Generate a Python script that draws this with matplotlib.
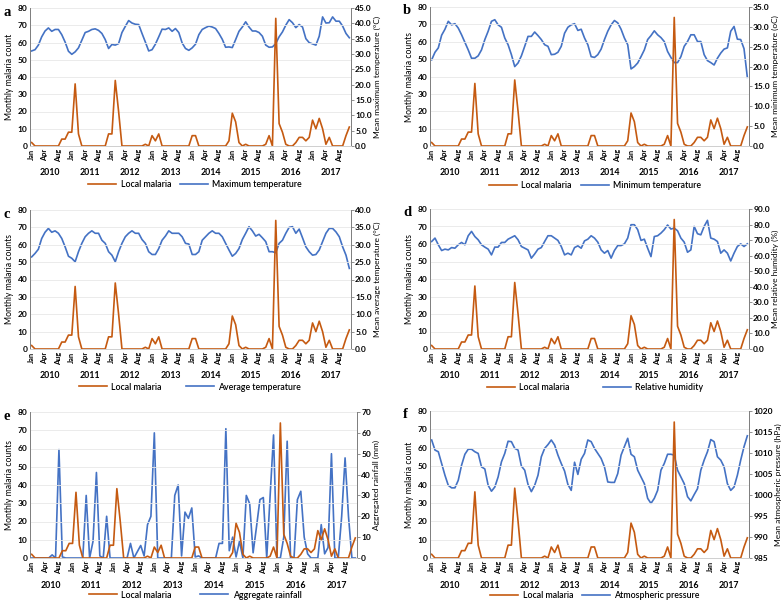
import matplotlib
matplotlib.use("Agg")
import matplotlib.pyplot as plt
from matplotlib.ticker import FormatStrFormatter, FixedLocator

plt.rcParams["font.family"] = ["Lato", "DejaVu Sans"]

years = [2010, 2011, 2012, 2013, 2014, 2015, 2016, 2017]
month_labels = ["Jan", "Apr", "Aug"]

# monthly local malaria cases, Jan 2010 - Dec 2017
malaria = [2, 0, 0, 0, 0, 0, 0, 0, 0, 4, 4, 8,
           8, 36, 7, 0, 0, 0, 0, 0, 0, 0, 0, 7,
           7, 38, 20, 0, 0, 0, 0, 0, 0, 0, 1, 0,
           6, 3, 7, 0, 0, 0, 0, 0, 0, 0, 0, 0,
           6, 6, 0, 0, 0, 0, 0, 0, 0, 0, 0, 3,
           19, 14, 2, 0, 1, 0, 0, 0, 0, 0, 1, 6,
           0, 74, 13, 8, 1, 0, 0, 2, 5, 5, 3, 5,
           15, 10, 16, 10, 1, 5, 0, 0, 0, 0, 6, 11]

max_temp = [31.0, 31.4, 32.9, 35.6, 37.5, 38.5, 37.4, 38.0, 38.0, 36.3, 33.9, 30.9,
            29.9, 30.7, 32.0, 34.5, 37.0, 37.4, 38.0, 38.2, 37.7, 36.7, 34.7, 31.8,
            33.1, 32.9, 33.4, 37.0, 39.0, 40.9, 40.1, 39.7, 39.6, 36.7, 33.9, 31.0,
            31.4, 33.2, 35.6, 38.1, 38.0, 38.5, 37.4, 38.3, 37.0, 33.6, 31.8, 31.2,
            32.0, 33.2, 36.3, 38.0, 38.6, 39.1, 38.8, 38.3, 36.7, 34.8, 32.2, 32.3,
            32.1, 34.7, 37.4, 38.8, 40.5, 38.8, 37.5, 37.5, 37.0, 35.8, 32.9, 32.2,
            32.3, 33.4, 35.6, 37.2, 39.4, 41.2, 40.2, 38.6, 39.6, 38.8, 35.0, 33.7,
            33.3, 32.9, 35.8, 42.1, 40.1, 40.2, 42.1, 40.7, 40.7, 39.1, 36.7, 35.3]

min_temp = [21.7, 23.6, 24.7, 27.9, 29.4, 31.4, 30.5, 30.8, 29.7, 28.0, 26.1, 24.2,
            22.1, 22.1, 22.7, 24.2, 26.8, 28.9, 31.4, 31.8, 30.5, 29.9, 27.2, 25.5,
            23.0, 20.0, 20.9, 22.7, 25.1, 27.6, 27.6, 28.7, 27.8, 26.8, 25.5, 25.1,
            23.0, 23.1, 23.6, 25.1, 28.4, 29.9, 30.5, 30.8, 29.1, 29.4, 27.2, 25.5,
            22.5, 22.3, 23.0, 24.4, 26.8, 28.9, 30.5, 31.6, 31.0, 29.4, 27.2, 25.5,
            19.4, 20.0, 20.9, 22.5, 24.2, 26.8, 27.8, 29.0, 28.0, 27.3, 26.3, 23.8,
            22.3, 21.0, 21.0, 22.5, 25.1, 26.3, 28.0, 28.0, 26.3, 26.3, 23.0, 21.5,
            21.0, 20.4, 22.1, 23.4, 24.4, 24.7, 28.9, 30.1, 26.9, 26.8, 24.5, 17.3]

avg_temp = [26.5, 27.5, 28.7, 31.8, 33.6, 34.7, 33.6, 34.0, 33.3, 31.8, 29.4, 26.7,
            26.1, 25.1, 28.0, 30.4, 32.3, 33.3, 34.0, 33.3, 33.3, 31.3, 30.4, 28.0,
            27.0, 25.1, 28.0, 30.4, 32.3, 33.3, 34.0, 33.3, 33.3, 31.5, 30.4, 28.0,
            27.2, 27.2, 28.9, 31.3, 32.5, 34.0, 33.3, 33.3, 33.3, 32.3, 30.4, 30.2,
            27.2, 27.2, 28.0, 31.3, 32.3, 33.3, 34.0, 33.3, 33.3, 32.3, 30.4, 28.5,
            26.7, 27.5, 28.9, 31.5, 33.3, 35.2, 34.0, 32.5, 33.0, 32.0, 30.9, 28.0,
            28.0, 27.7, 30.4, 31.3, 33.3, 35.0, 35.2, 33.3, 34.5, 32.0, 29.4, 28.0,
            27.0, 27.2, 28.5, 30.9, 33.3, 34.7, 34.7, 33.7, 32.3, 29.4, 27.0, 23.2]

humidity = [69.1, 71.3, 67.0, 63.3, 64.2, 63.7, 65.2, 64.8, 67.0, 68.5, 67.0, 72.8,
            75.6, 72.3, 70.2, 67.0, 65.5, 64.2, 60.5, 65.5, 65.5, 68.5, 68.5, 70.6,
            71.7, 72.8, 70.2, 65.9, 64.8, 63.7, 58.4, 61.1, 64.2, 65.2, 69.1, 72.8,
            72.8, 71.3, 69.8, 65.9, 60.5, 61.6, 60.5, 65.2, 66.3, 64.8, 69.5, 70.6,
            72.8, 71.3, 68.7, 63.7, 61.6, 63.3, 58.4, 63.3, 66.5, 66.5, 67.6, 71.3,
            79.9, 79.9, 76.7, 69.8, 70.6, 64.8, 59.4, 72.3, 72.8, 74.5, 76.7, 79.7,
            77.1, 77.7, 76.0, 71.3, 68.7, 62.2, 63.7, 78.8, 74.1, 73.4, 78.8, 82.7,
            71.3, 70.6, 69.1, 61.6, 63.7, 61.6, 56.6, 61.6, 65.9, 67.6, 65.9, 67.6]

rainfall = [0, 0, 0, 0, 0, 0, 1.5, 0, 52, 0.5, 0, 0,
            0, 0, 0, 0, 30, 0, 8, 41, 1, 0, 20, 0,
            0, 0, 0, 0, 0, 7, 0, 3, 6, 1, 16, 20,
            60, 0, 0, 0, 0, 0, 30, 35, 1, 22, 19, 24,
            0.5, 1, 0, 0, 0, 0, 0, 7, 7, 62, 3.5, 10,
            0.5, 8, 0, 30, 26, 2.5, 15, 28, 29, 0, 30, 59,
            0, 0, 10, 56, 0, 0, 28, 32, 10, 2, 0, 0,
            0, 16, 2, 5, 50, 0, 0, 20, 48, 20, 0, 0]

pressure = [1013.1, 1010.7, 1010.3, 1007.5, 1004.7, 1002.3, 1001.7, 1001.7, 1003.5, 1007.1, 1009.7, 1010.9,
            1010.9, 1010.3, 1009.9, 1006.7, 1006.2, 1002.3, 1000.9, 1001.9, 1004.3, 1007.9, 1009.9, 1012.8,
            1012.7, 1011.1, 1010.7, 1006.9, 1005.9, 1002.5, 1000.8, 1002.3, 1004.7, 1009.1, 1011.1, 1012.0,
            1013.1, 1011.9, 1009.5, 1007.5, 1005.7, 1002.5, 1001.1, 1007.8, 1004.9, 1008.5, 1009.9, 1013.1,
            1012.7, 1011.1, 1009.9, 1008.7, 1006.7, 1003.1, 1003.0, 1003.0, 1005.1, 1009.5, 1011.5, 1013.5,
            1009.7, 1009.1, 1005.9, 1004.3, 1002.7, 999.2, 998.0, 999.2, 1001.1, 1005.9, 1007.5, 1009.7,
            1009.7, 1009.5, 1005.9, 1004.3, 1002.7, 999.6, 998.6, 1000.1, 1001.5, 1005.9, 1008.3, 1010.3,
            1013.2, 1012.7, 1009.1, 1008.3, 1006.7, 1002.7, 1001.1, 1001.9, 1004.7, 1008.3, 1011.5, 1014.1]

ORANGE = "#C55A11"
BLUE = "#4472C4"
W, H = 784, 601

fig = plt.figure(figsize=(W / 100, H / 100), dpi=100)


def px_rect(l, t, r, b):
    return [l / W, 1 - b / H, (r - l) / W, (b - t) / H]


def panel(rect, letter, series, ylim2, step2, fmt2, ylab1, ylab2, name2, leg_pos, colsp):
    ax = fig.add_axes(px_rect(*rect))
    ax2 = ax.twinx()
    ax.set_zorder(ax2.get_zorder() + 1)
    ax.patch.set_visible(False)

    x = list(range(len(malaria)))
    ax2.plot(x, series, color=BLUE, lw=1.2, label=name2)
    ax.plot(x, malaria, color=ORANGE, lw=1.2, label="Local malaria")

    ax.set_xlim(-0.5, len(malaria) - 0.5)
    ax.set_ylim(0, 80)
    ax.set_yticks(range(0, 81, 10))
    ax2.set_ylim(*ylim2)
    t = ylim2[0]
    ticks2 = []
    while t <= ylim2[1] + 1e-9:
        ticks2.append(t)
        t += step2
    ax2.yaxis.set_major_locator(FixedLocator(ticks2))
    ax2.yaxis.set_major_formatter(FormatStrFormatter(fmt2))

    pos, labs = [], []
    for k in range(len(years)):
        for j, m in enumerate(month_labels):
            pos.append(12 * k + 4 * j)
            labs.append(m)
    ax.set_xticks(pos)
    ax.set_xticklabels(labs, rotation=90, fontsize=5.3, fontweight="bold")
    ax.tick_params(axis="x", length=0, pad=2)
    ax.tick_params(axis="y", length=0, labelsize=6, pad=2)
    ax2.tick_params(axis="y", length=2, width=0.6, color="#808080", labelsize=6, pad=1)
    for lab in ax.get_yticklabels() + ax2.get_yticklabels():
        lab.set_fontweight("bold")

    for k, yr in enumerate(years):
        ax.text(12 * k + 5.5, -0.19, str(yr), transform=ax.get_xaxis_transform(),
                ha="center", va="center", fontsize=6.3, fontweight="bold")

    ax.grid(axis="y", color="#e8e8e8", lw=0.6)
    ax.set_axisbelow(True)
    for a in (ax, ax2):
        a.spines["top"].set_visible(False)
        a.spines["left"].set_color("#808080")
        a.spines["right"].set_color("#808080")
        a.spines["bottom"].set_color("#d0d0d0")
        for s in a.spines.values():
            s.set_linewidth(0.7)

    ax.set_ylabel(ylab1, fontsize=6.2, labelpad=2.5)
    ax2.set_ylabel(ylab2, fontsize=6.0, labelpad=1.5)

    fig.text((rect[0] - 27) / W, 1 - (rect[1] + 4) / H, letter, fontsize=10.5,
             fontweight="bold", family="Liberation Serif", ha="left", va="center")

    h1, l1 = ax.get_legend_handles_labels()
    h2, l2 = ax2.get_legend_handles_labels()
    fig.legend(h1 + h2, l1 + l2, loc="center", ncol=2, frameon=False,
               bbox_to_anchor=(leg_pos[0] / W, 1 - leg_pos[1] / H),
               prop={"size": 6.3, "weight": "semibold"},
               handlelength=3.2, handletextpad=0.5, columnspacing=colsp)


panel((30, 8, 351, 146), "a", max_temp, (0, 45), 5, "%.1f",
      "Monthly malaria count", "Mean maximum temperature (\u00b0C)", "Maximum temperature", (195, 185), 1.0)
panel((430, 7, 749, 146), "b", min_temp, (0, 35), 5, "%.1f",
      "Monthly malaria counts", "Mean minimum temperature (oC)", "Minimum temperature", (595, 186), 1.0)
panel((30, 210, 351, 349), "c", avg_temp, (0, 40), 5, "%.1f",
      "Monthly malaria counts", "Mean average temperature (\u00b0C)", "Average temperature", (190, 387), 2.8)
panel((430, 209, 749, 349), "d", humidity, (0, 90), 10, "%.1f",
      "Monthly malaria counts", "Mean relative humidity (%)", "Relative humidity", (595, 388), 3.8)
panel((30, 412, 357, 558), "e", rainfall, (0, 70), 10, "%d",
      "Monthly malaria counts", "Aggregated rainfall (mm)", "Aggregate rainfall", (195, 595), 3.3)
panel((430, 411, 749, 558), "f", pressure, (985, 1020), 5, "%d",
      "Monthly malaria count", "Mean atmospheric pressure (hPa)", "Atmospheric pressure", (595, 596), 1.0)

fig.savefig("out.png", dpi=100)
